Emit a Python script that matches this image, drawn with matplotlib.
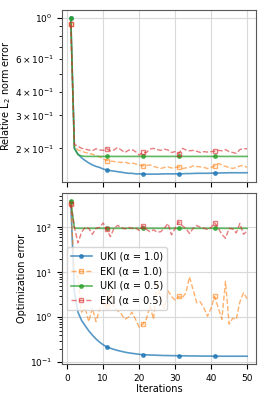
import numpy as np
import matplotlib
matplotlib.use("Agg")
import matplotlib.pyplot as plt

iterations = np.arange(1, 51)

# Top panel: relative L2 norm error
uki10_rel = [1.0, 0.2, 0.186, 0.178, 0.172, 0.167, 0.163, 0.160, 0.158, 0.155,
             0.153, 0.152, 0.151, 0.150, 0.149, 0.148, 0.147, 0.147, 0.146, 0.146,
             0.146, 0.1455, 0.1455, 0.1455, 0.1455, 0.1458, 0.146, 0.146, 0.146, 0.146,
             0.146, 0.1462, 0.1465, 0.1465, 0.1467, 0.147, 0.147, 0.147, 0.147, 0.1472,
             0.1475, 0.1475, 0.1477, 0.1478, 0.148, 0.148, 0.148, 0.148, 0.148, 0.148]
eki10_rel = [0.925, 0.205, 0.196, 0.193, 0.190, 0.188, 0.186, 0.183, 0.180, 0.176,
             0.172, 0.171, 0.170, 0.169, 0.168, 0.169, 0.166, 0.167, 0.165, 0.163,
             0.161, 0.162, 0.163, 0.160, 0.158, 0.156, 0.158, 0.159, 0.157, 0.158,
             0.159, 0.156, 0.157, 0.158, 0.161, 0.160, 0.159, 0.158, 0.156, 0.158,
             0.161, 0.166, 0.163, 0.160, 0.158, 0.156, 0.158, 0.161, 0.162, 0.158]
uki05_rel = [1.0, 0.2, 0.185, 0.182] + [0.181] * 46
eki05_rel = [0.925, 0.21, 0.205, 0.200, 0.198, 0.196, 0.194, 0.199, 0.196, 0.195,
             0.199, 0.194, 0.196, 0.202, 0.196, 0.190, 0.195, 0.197, 0.192, 0.184,
             0.190, 0.190, 0.198, 0.200, 0.197, 0.195, 0.198, 0.196, 0.190, 0.192,
             0.187, 0.200, 0.196, 0.194, 0.195, 0.193, 0.190, 0.192, 0.191, 0.192,
             0.193, 0.195, 0.194, 0.197, 0.192, 0.190, 0.188, 0.197, 0.199, 0.199]

# Bottom panel: optimization error
uki10_opt = [370, 3.5, 1.3, 0.85, 0.65, 0.50, 0.40, 0.33, 0.28, 0.245,
             0.218, 0.205, 0.193, 0.183, 0.175, 0.168, 0.162, 0.158, 0.154, 0.150,
             0.147, 0.146, 0.145, 0.144, 0.143, 0.142, 0.141, 0.141, 0.140, 0.140,
             0.139, 0.139, 0.139, 0.138, 0.138, 0.138, 0.137, 0.137, 0.137, 0.137,
             0.136, 0.136, 0.136, 0.136, 0.136, 0.136, 0.136, 0.136, 0.136, 0.136]
eki10_opt = [350, 9, 8, 1.3, 1.6, 0.8, 1.6, 0.8, 1.5, 2.2,
             1.8, 4.0, 1.6, 1.4, 1.2, 0.9, 1.0, 1.3, 0.9, 0.6,
             0.7, 0.9, 1.8, 0.9, 6.0, 2.5, 1.6, 3.9, 2.9, 2.4,
             2.9, 2.7, 3.5, 7.9, 4.1, 2.1, 2.2, 1.6, 1.05, 1.6,
             2.9, 1.6, 0.9, 6.3, 0.7, 0.95, 0.9, 2.2, 3.5, 2.6]
uki05_opt = [390, 96] + [95] * 48
eki05_opt = [330, 100, 45, 78, 100, 95, 70, 95, 100, 125,
             90, 62, 95, 110, 100, 92, 100, 95, 98, 85,
             108, 90, 80, 88, 78, 80, 95, 122, 68, 95,
             133, 108, 95, 73, 95, 110, 100, 95, 90, 100,
             126, 95, 70, 57, 95, 92, 75, 122, 70, 83]

labels = ["UKI (α = 1.0)", "EKI (α = 1.0)", "UKI (α = 0.5)", "EKI (α = 0.5)"]
colors = ["tab:blue", "tab:orange", "tab:green", "tab:red"]

plt.rcParams['font.size'] = 7
plt.rcParams['xtick.labelsize'] = 6.5
plt.rcParams['ytick.labelsize'] = 6.5
fig = plt.figure(figsize=(2.66, 3.99), dpi=100)
ax1 = fig.add_axes([0.233, 0.544, 0.729, 0.431])
ax2 = fig.add_axes([0.233, 0.0877, 0.729, 0.4286], sharex=ax1)

def draw(ax, series):
    for i, (ys, lab, c) in enumerate(zip(series, labels, colors)):
        if i % 2 == 0:
            ax.plot(iterations, ys, '-', color=c, marker='o', markersize=2.5,
                    markevery=10, linewidth=1.2, alpha=0.75, label=lab)
        else:
            ax.plot(iterations, ys, '--', color=c, marker='s', markersize=3.5,
                    markevery=10, linewidth=1.0, alpha=0.6, label=lab,
                    markerfacecolor='none')
    ax.set_yscale('log')
    ax.grid(True, which='major', color='0.85', linewidth=0.8)
    for s in ax.spines.values():
        s.set_color('0.35')

draw(ax1, [uki10_rel, eki10_rel, uki05_rel, eki05_rel])
draw(ax2, [uki10_opt, eki10_opt, uki05_opt, eki05_opt])

ax1.set_ylabel("Relative L$_2$ norm error", labelpad=2)
plt.setp(ax1.get_xticklabels(), visible=False)
ax2.set_ylabel("Optimization error", labelpad=2)
ax2.set_xlabel("Iterations", labelpad=1)
ax2.set_xticks([0, 10, 20, 30, 40, 50])
ax2.legend(loc='center left', fontsize=7, handlelength=2.2)

fig.savefig("out.png", dpi=100)
